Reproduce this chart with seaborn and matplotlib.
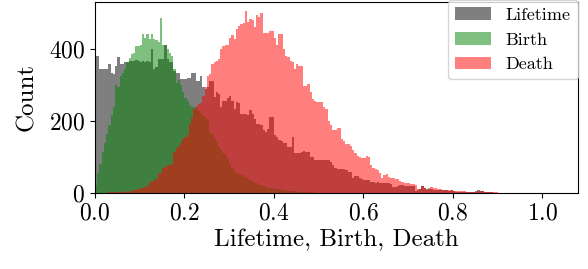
import numpy as np
import pandas as pd
import matplotlib
matplotlib.use("Agg")
import matplotlib.pyplot as plt
import seaborn as sns

# bin counts, bin width 0.005 starting at 0.0
bin_width = 0.005

lifetime = [381, 381, 344, 344, 344, 344, 358, 335, 330, 352,
            377, 358, 360, 365, 365, 368, 368, 368, 370, 368,
            365, 368, 365, 366, 363, 400, 345, 350, 372, 372,
            372, 413, 372, 363, 363, 340, 335, 333, 318, 318,
            318, 321, 321, 335, 335, 312, 312, 326, 294, 290,
            294, 312, 312, 266, 280, 275, 239, 257, 257, 265,
            271, 257, 234, 252, 250, 220, 220, 220, 216, 230,
            220, 206, 193, 193, 190, 175, 170, 179, 211, 211,
            160, 156, 147, 145, 138, 138, 129, 129, 156, 110,
            110, 110, 115, 118, 115, 115, 101, 101, 92, 92,
            92, 93, 93, 93, 93, 85, 77, 70, 68, 68,
            68, 66, 64, 59, 59, 41, 47, 47, 41, 38,
            36, 36, 37, 31, 31, 27, 30, 29, 29, 29,
            29, 29, 25, 18, 18, 20, 22, 22, 20, 20,
            20, 20, 20, 5, 8, 10, 20, 15, 10, 10,
            10, 9, 9, 8, 9, 8, 7, 7, 6, 7,
            5, 4, 3, 4, 3, 3, 3, 2, 3, 3,
            6, 7, 6, 5, 4, 3, 2, 2, 1, 1]

birth = [22, 55, 82, 115, 138, 165, 188, 216, 239, 300,
         294, 326, 335, 345, 363, 375, 386, 390, 409, 410,
         413, 441, 432, 441, 428, 441, 428, 425, 420, 487,
         413, 413, 400, 390, 381, 345, 305, 315, 300, 280,
         265, 255, 245, 240, 239, 235, 228, 222, 215, 210,
         206, 170, 165, 150, 145, 128, 120, 110, 105, 95,
         82, 70, 60, 55, 52, 50, 45, 45, 40, 36,
         33, 27, 27, 22, 22, 20, 18, 15, 14, 13,
         12, 10, 10, 9, 8, 7, 6, 6, 5, 5,
         4, 4, 3, 3, 3, 2, 2, 2, 1, 1,
         1, 0, 1, 0, 0, 1, 0, 0, 0, 0,
         0, 0, 0, 0, 0, 0, 0, 0, 0, 0,
         0, 0, 0, 0, 0, 0, 0, 0, 0, 0,
         0, 0, 0, 0, 0, 0, 0, 0, 0, 0,
         0, 0, 0, 0, 0, 0, 0, 0, 0, 0,
         0, 0, 0, 0, 0, 0, 0, 0, 0, 0,
         0, 0, 0, 0, 0, 0, 0, 0, 0, 0,
         0, 0, 0, 0, 0, 0, 0, 0, 0, 0]

death = [0, 0, 0, 1, 1, 1, 2, 2, 3, 3,
         4, 4, 3, 5, 4, 5, 6, 8, 9, 12,
         13, 15, 18, 20, 31, 31, 35, 40, 55, 55,
         70, 73, 77, 77, 80, 115, 124, 130, 138, 151,
         155, 160, 193, 210, 234, 243, 248, 250, 270, 294,
         326, 330, 360, 365, 368, 372, 400, 409, 413, 413,
         432, 440, 428, 455, 464, 469, 474, 506, 475, 483,
         480, 462, 495, 490, 500, 446, 446, 446, 450, 450,
         430, 413, 441, 441, 400, 380, 377, 367, 363, 345,
         359, 354, 354, 299, 299, 304, 280, 262, 257, 252,
         252, 252, 240, 234, 200, 188, 174, 174, 181, 181,
         151, 145, 137, 135, 130, 119, 110, 102, 100, 96,
         96, 102, 100, 77, 70, 68, 64, 55, 41, 50,
         53, 45, 41, 41, 40, 38, 33, 30, 27, 27,
         27, 26, 25, 22, 12, 10, 20, 14, 9, 15,
         17, 13, 13, 12, 10, 9, 9, 8, 7, 7,
         6, 6, 6, 5, 6, 5, 4, 3, 2, 2,
         4, 5, 5, 6, 4, 4, 3, 4, 3, 2]

series_names = ["Lifetime", "Birth", "Death"]
series_colors = ["black", "green", "red"]
xticks = [0.0, 0.2, 0.4, 0.6, 0.8, 1.0]
yticks = [0, 200, 400]

plt.rcParams['font.family'] = ['cmr10', 'DejaVu Serif']
plt.rcParams['mathtext.fontset'] = 'cm'
plt.rcParams['axes.formatter.use_mathtext'] = True
plt.rcParams['axes.unicode_minus'] = False

edges = (np.arange(len(lifetime) + 1) * bin_width).tolist()
centers = [e + bin_width / 2 for e in edges[:-1]]

fig, ax = plt.subplots(figsize=(5.88, 2.69), dpi=100)
fig.subplots_adjust(left=0.1616, right=0.983, bottom=0.2825, top=0.9926)

for name, col, counts in zip(series_names, series_colors, [lifetime, birth, death]):
    df = pd.DataFrame({"x": centers, "w": counts})
    sns.histplot(data=df, x="x", weights="w", bins=edges, color=col,
                 alpha=0.5, linewidth=0, label=name, ax=ax)

ax.set_xlim(0, 1.08)
ax.set_xticks(xticks)
ax.set_yticks(yticks)
ax.tick_params(labelsize=17)
ax.set_xlabel("Lifetime, Birth, Death", fontsize=18, labelpad=3)
ax.set_ylabel("Count", fontsize=18, labelpad=8)
ax.legend(loc="upper right", fontsize=13, borderaxespad=0,
          bbox_to_anchor=(1.0, 1.01))

fig.savefig("out.png", dpi=100)
